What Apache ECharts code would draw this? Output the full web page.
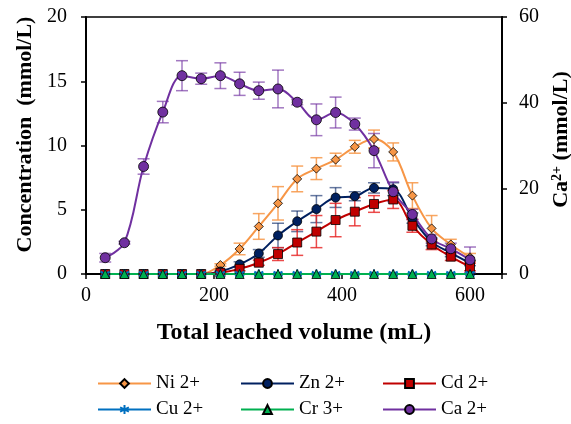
<!DOCTYPE html>
<html lang="en">
<head>
    <meta charset="UTF-8">
    <title>Leaching curves</title>
    <style>
        html, body { margin: 0; padding: 0; background: #fff; }
        #main { width: 571px; height: 424px; }
    </style>
    <script src="https://cdn.jsdelivr.net/npm/echarts@6/dist/echarts.min.js"></script>
</head>
<body>
<div id="main"></div>
<script>
    // leached volume (mL)
    var volume = [30, 60, 90, 120, 150, 180, 210, 240, 270, 300, 330, 360, 390, 420, 450, 480, 510, 540, 570, 600];

    // concentrations, mmol/L (left axis)
    var ni    = [0, 0, 0, 0, 0, 0, 0.7, 1.95, 3.7, 5.5, 7.4, 8.2, 8.9, 9.9, 10.5, 9.5, 6.1, 3.55, 2.3, 1.3];
    var niErr = [0, 0, 0, 0, 0, 0, 0.1, 0.45, 1.0, 1.3, 1.0, 0.85, 0.5, 0.5, 0.7, 0.7, 1.0, 1.0, 0.4, 0.3];
    var zn    = [0, 0, 0, 0, 0, 0, 0.2, 0.75, 1.6, 3.0, 4.1, 5.05, 5.95, 6.05, 6.7, 6.6, 4.35, 2.5, 1.65, 0.85];
    var znErr = [0, 0, 0, 0, 0, 0, 0.05, 0.2, 0.3, 0.95, 0.8, 1.05, 0.77, 0.35, 0.4, 0.5, 0.4, 0.3, 0.3, 0.2];
    var cd    = [0, 0, 0, 0, 0, 0, 0.1, 0.4, 0.88, 1.55, 2.45, 3.3, 4.2, 4.85, 5.45, 5.8, 3.75, 2.3, 1.35, 0.55];
    var cdErr = [0, 0, 0, 0, 0, 0, 0, 0.15, 0.2, 0.5, 1.0, 1.25, 1.3, 1.1, 0.65, 0.7, 0.5, 0.4, 0.3, 0.3];
    var cu    = [0, 0, 0, 0, 0, 0, 0, 0, 0, 0, 0, 0, 0, 0, 0, 0, 0, 0, 0, 0];
    var cr    = [0, 0, 0, 0, 0, 0, 0, 0, 0, 0, 0, 0, 0, 0, 0, 0, 0, 0, 0, 0];

    // Ca2+, mmol/L (right axis)
    var ca    = [3.8, 7.3, 25.1, 37.8, 46.3, 45.6, 46.3, 44.4, 42.8, 43.2, 40.1, 36.0, 37.7, 35.0, 28.8, 19.2, 13.9, 8.2, 5.9, 3.3];
    var caErr = [1.0, 0.3, 1.8, 2.5, 3.5, 1.3, 3.0, 2.7, 2.0, 4.4, 0.6, 3.7, 3.6, 1.4, 4.0, 2.3, 1.2, 1.0, 1.3, 3.0];

    var xTicks = [0, 200, 400, 600];
    var leftTicks = [0, 5, 10, 15, 20];
    var rightTicks = [0, 20, 40, 60];

    var FONT = "'Liberation Serif', 'Times New Roman', serif";

    var chartDom = document.getElementById('main');
    var myChart = echarts.init(chartDom);

    function pairs(ys) {
        return volume.map(function (v, i) { return [v, ys[i]]; });
    }

    function errData(ys, es) {
        var out = [];
        for (var i = 0; i < volume.length; i++) {
            if (es[i] > 0) out.push([volume[i], ys[i], es[i]]);
        }
        return out;
    }

    // vertical error bar with caps
    function errSeries(ys, es, color, axisIdx) {
        return {
            type: 'custom',
            yAxisIndex: axisIdx,
            silent: true,
            data: errData(ys, es),
            renderItem: function (params, api) {
                var x = api.value(0), y = api.value(1), e = api.value(2);
                var hi = api.coord([x, y + e]);
                var lo = api.coord([x, y - e]);
                var w = 6;
                var st = { stroke: color, lineWidth: 1.5 };
                return {
                    type: 'group',
                    children: [
                        { type: 'line', shape: { x1: hi[0], y1: hi[1], x2: lo[0], y2: lo[1] }, style: st },
                        { type: 'line', shape: { x1: hi[0] - w, y1: hi[1], x2: hi[0] + w, y2: hi[1] }, style: st },
                        { type: 'line', shape: { x1: lo[0] - w, y1: lo[1], x2: lo[0] + w, y2: lo[1] }, style: st }
                    ]
                };
            }
        };
    }

    function lineSeries(name, ys, color, symbol, size, axisIdx) {
        return {
            name: name,
            type: 'line',
            yAxisIndex: axisIdx,
            data: pairs(ys),
            smooth: 0.35,
            symbol: symbol,
            symbolSize: size,
            showAllSymbol: true,
            lineStyle: { color: color, width: 2 },
            itemStyle: { color: color, borderColor: '#000', borderWidth: 0.8 }
        };
    }

    var asterisk = 'path://M5,0L5,10M0.7,2.5L9.3,7.5M0.7,7.5L9.3,2.5';

    var cuSeries = lineSeries('Cu 2+', cu, '#0070C0', asterisk, 9, 0);
    cuSeries.itemStyle = { color: 'none', borderColor: '#0070C0', borderWidth: 2 };

    // one small legend per entry so the 3x2 layout sits where it should
    var legendPos = [
        { name: 'Ni 2+', left: 92,  top: 369 },
        { name: 'Zn 2+', left: 235, top: 369 },
        { name: 'Cd 2+', left: 377, top: 369 },
        { name: 'Cu 2+', left: 92,  top: 395 },
        { name: 'Cr 3+', left: 235, top: 395 },
        { name: 'Ca 2+', left: 377, top: 395 }
    ];

    var option = {
        animation: false,
        backgroundColor: '#fff',
        textStyle: { fontFamily: FONT, color: '#000' },
        grid: {
            left: 86, right: 69, top: 17, bottom: 150,
            outerBoundsMode: 'none',
            show: true, borderColor: '#000', borderWidth: 1.5
        },
        legend: legendPos.map(function (p) {
            return {
                data: [p.name],
                left: p.left,
                top: p.top,
                itemWidth: 53,
                itemHeight: 11,
                itemGap: 0,
                selectedMode: false,
                textStyle: { fontFamily: FONT, fontSize: 19, color: '#000' }
            };
        }),
        xAxis: {
            type: 'value',
            min: 0,
            max: 650,
            interval: 200,
            name: 'Total leached volume (mL)',
            nameLocation: 'middle',
            nameGap: 47,
            nameTextStyle: { fontFamily: FONT, fontSize: 24, fontWeight: 'bold', color: '#000' },
            axisLine: { lineStyle: { color: '#000', width: 2 } },
            axisTick: { length: 5, lineStyle: { color: '#000', width: 1.5 } },
            splitLine: { show: false },
            axisLabel: {
                fontFamily: FONT, fontSize: 20, color: '#000', margin: 12,
                formatter: function (v) { return xTicks.indexOf(v) >= 0 ? String(v) : ''; }
            }
        },
        yAxis: [{
            type: 'value',
            min: 0,
            max: 20,
            interval: 5,
            name: 'Concentration  (mmol/L)',
            nameLocation: 'middle',
            nameRotate: 90,
            nameGap: 50,
            nameTextStyle: {
                fontFamily: FONT, fontSize: 22, fontWeight: 'bold', color: '#000',
                padding: [0, 0, 0, 22]
            },
            axisLine: { show: true, lineStyle: { color: '#000', width: 2 } },
            axisTick: { show: true, length: 5, lineStyle: { color: '#000', width: 1.5 } },
            splitLine: { show: false },
            axisLabel: {
                fontFamily: FONT, fontSize: 20, color: '#000', margin: 19,
                formatter: function (v) { return leftTicks.indexOf(v) >= 0 ? String(v) : ''; }
            }
        }, {
            type: 'value',
            position: 'right',
            min: 0,
            max: 60,
            interval: 20,
            name: '{a|Ca}{s|2+}{a| (mmol/L)}',
            nameLocation: 'middle',
            nameRotate: 90,
            nameGap: 46,
            nameTextStyle: {
                padding: [0, 0, 0, 12],
                rich: {
                    a: { fontFamily: FONT, fontSize: 22, fontWeight: 'bold', color: '#000' },
                    s: { fontFamily: FONT, fontSize: 14, fontWeight: 'bold', color: '#000', verticalAlign: 'top', padding: [0, 0, 8, 0] }
                }
            },
            axisLine: { show: true, lineStyle: { color: '#000', width: 2 } },
            axisTick: { show: true, length: 5, lineStyle: { color: '#000', width: 1.5 } },
            splitLine: { show: false },
            axisLabel: {
                fontFamily: FONT, fontSize: 20, color: '#000', margin: 17,
                formatter: function (v) { return rightTicks.indexOf(v) >= 0 ? String(v) : ''; }
            }
        }],
        series: [
            errSeries(ni, niErr, 'rgba(247,150,70,0.85)', 0),
            lineSeries('Ni 2+', ni, '#F79646', 'diamond', 9, 0),
            errSeries(zn, znErr, 'rgba(0,32,96,0.6)', 0),
            lineSeries('Zn 2+', zn, '#002060', 'circle', 9, 0),
            errSeries(cd, cdErr, 'rgba(230,30,30,0.8)', 0),
            lineSeries('Cd 2+', cd, '#C00000', 'rect', 9, 0),
            cuSeries,
            lineSeries('Cr 3+', cr, '#00B050', 'triangle', 9, 0),
            errSeries(ca, caErr, 'rgba(112,48,160,0.65)', 1),
            lineSeries('Ca 2+', ca, '#7030A0', 'circle', 10, 1)
        ]
    };

    option && myChart.setOption(option);
</script>
</body>
</html>
